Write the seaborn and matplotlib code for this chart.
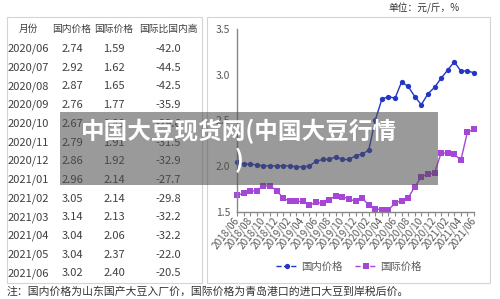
import pandas as pd
import matplotlib.pyplot as plt
import seaborn as sns
from matplotlib.patches import Rectangle

# 月份和价格数据（元/斤）
months = list(pd.date_range('2018-06-01', '2021-06-01', freq='MS').strftime('%Y/%m'))
domestic = [2.04, 2.02, 2.02, 2.01, 2.00, 2.00, 2.00,
            2.00, 2.00, 1.99, 1.99, 2.00, 2.05, 2.07, 2.07, 2.10, 2.07, 2.07, 2.11,
            2.13, 2.17, 2.50, 2.73, 2.76, 2.74, 2.92, 2.87, 2.76, 2.67, 2.79, 2.86,
            2.96, 3.05, 3.14, 3.04, 3.04, 3.02]
international = [1.68, 1.70, 1.72, 1.73, 1.78, 1.78, 1.73,
                 1.65, 1.61, 1.61, 1.61, 1.57, 1.60, 1.59, 1.63, 1.67, 1.66, 1.64, 1.61,
                 1.65, 1.57, 1.53, 1.52, 1.52, 1.59, 1.62, 1.65, 1.77, 1.88, 1.91, 1.92,
                 2.14, 2.14, 2.13, 2.06, 2.37, 2.40]

# 左侧表格
table_header = ['月份', '国内价格', '国际价格', '国际比国内高']
table_months = ['2020/06', '2020/07', '2020/08', '2020/09', '2020/10', '2020/11', '2020/12',
                '2021/01', '2021/02', '2021/03', '2021/04', '2021/05', '2021/06']
table_domestic = ['2.74', '2.92', '2.87', '2.76', '2.67', '2.79', '2.86',
                  '2.96', '3.05', '3.14', '3.04', '3.04', '3.02']
table_intl = ['1.59', '1.62', '1.65', '1.77', '1.88', '1.91', '1.92',
              '2.14', '2.14', '2.13', '2.06', '2.37', '2.40']
table_diff = ['-42.0', '-44.5', '-42.5', '-35.9', '-29.6', '-31.5', '-32.9',
              '-27.7', '-29.8', '-32.2', '-32.2', '-22.0', '-20.5']

W, H = 500, 299


def fx(x):
    return x / W


def fy(y):
    return 1 - y / H


sns.set_theme(style='white')
plt.rcParams['font.family'] = ['Noto Sans CJK SC', 'DejaVu Sans']

fig = plt.figure(figsize=(5, 2.99), dpi=100)

# 外框
for x0, x1 in [(7, 202), (207, 490)]:
    fig.add_artist(Rectangle((fx(x0), fy(283)), (x1 - x0) / W, (283 - 17) / H,
                             transform=fig.transFigure, fill=False,
                             edgecolor='#d4d4d4', lw=0.8))

# 表格文字
col_x = [28, 72, 114, 168]
txt_color = '#404040'
for cx, name in zip(col_x, table_header):
    fig.text(fx(cx), fy(29), name, ha='center', va='center', fontsize=7, color=txt_color)
for i, row in enumerate(zip(table_months, table_domestic, table_intl, table_diff)):
    y = 49 + i * 18.7
    for cx, val in zip(col_x, row):
        fig.text(fx(cx), fy(y), val, ha='center', va='center', fontsize=8, color=txt_color)

# 折线图
df = pd.DataFrame({
    'idx': list(range(len(months))) * 2,
    'price': domestic + international,
    'series': ['国内价格'] * len(months) + ['国际价格'] * len(months),
})

ax = fig.add_axes([fx(237), fy(211.5), (474 - 237) / W, (211.5 - 29) / H])
sns.lineplot(data=df, x='idx', y='price', hue='series', style='series',
             palette={'国内价格': '#2436c8', '国际价格': '#a646d8'},
             markers={'国内价格': 'o', '国际价格': 's'}, dashes=False,
             markersize=3.8, markeredgewidth=0, linewidth=1, ax=ax)
for ln in ax.lines:
    ln.set_clip_on(False)

ax.set_xlim(0, len(months) - 1)
ax.set_ylim(1.5, 3.5)
ax.set_xlabel('')
ax.set_ylabel('')
ax.set_yticks([1.5, 2.0, 2.5, 3.0, 3.5])
ax.set_yticklabels(['1.5', '2.0', '2.5', '3.0', '3.5'])
ax.set_xticks(range(0, len(months), 2))
ax.set_xticklabels(months[::2], rotation=52, ha='right', va='center', rotation_mode='anchor')
ax.set_xticks(range(len(months)), minor=True)
ax.tick_params(axis='y', length=0, pad=5, labelsize=7.5, labelcolor='#595959')
ax.tick_params(axis='x', which='both', direction='out', length=3, width=0.8,
               color='#888888', bottom=True, labelsize=7.2, labelcolor='#595959', pad=2)
for s in ['top', 'right']:
    ax.spines[s].set_visible(False)
for s in ['left', 'bottom']:
    ax.spines[s].set_color('#888888')
    ax.spines[s].set_linewidth(1)

handles, labels = ax.get_legend_handles_labels()
ax.get_legend().remove()
for h in handles:
    h.set_linestyle('--')
fig.legend(handles, labels, loc='center', bbox_to_anchor=(fx(349), fy(267)), ncol=2,
           frameon=False, fontsize=7.5, labelcolor='#595959', handlelength=2,
           columnspacing=1.2, handletextpad=0.4)

# 单位与注释
fig.text(fx(424), fy(8), '单位：元/斤，%', ha='center', va='center', fontsize=7, color='#333333')
fig.text(fx(7), fy(292), '注：国内价格为山东国产大豆入厂价，国际价格为青岛港口的进口大豆到岸税后价。',
         ha='left', va='center', fontsize=7.8, color='#333333')

# 水印
fig.add_artist(Rectangle((fx(60), fy(185)), (438 - 60) / W, (185 - 112) / H,
                         transform=fig.transFigure, facecolor='#4d4d4d', alpha=0.57,
                         edgecolor='none', zorder=10))
fig.text(fx(239), fy(146), '中国大豆现货网(中国大豆行情\n)', ha='center', va='center',
         fontsize=17, fontweight='bold', color='white', linespacing=1.15, zorder=11)

fig.savefig('out.png', dpi=100)
